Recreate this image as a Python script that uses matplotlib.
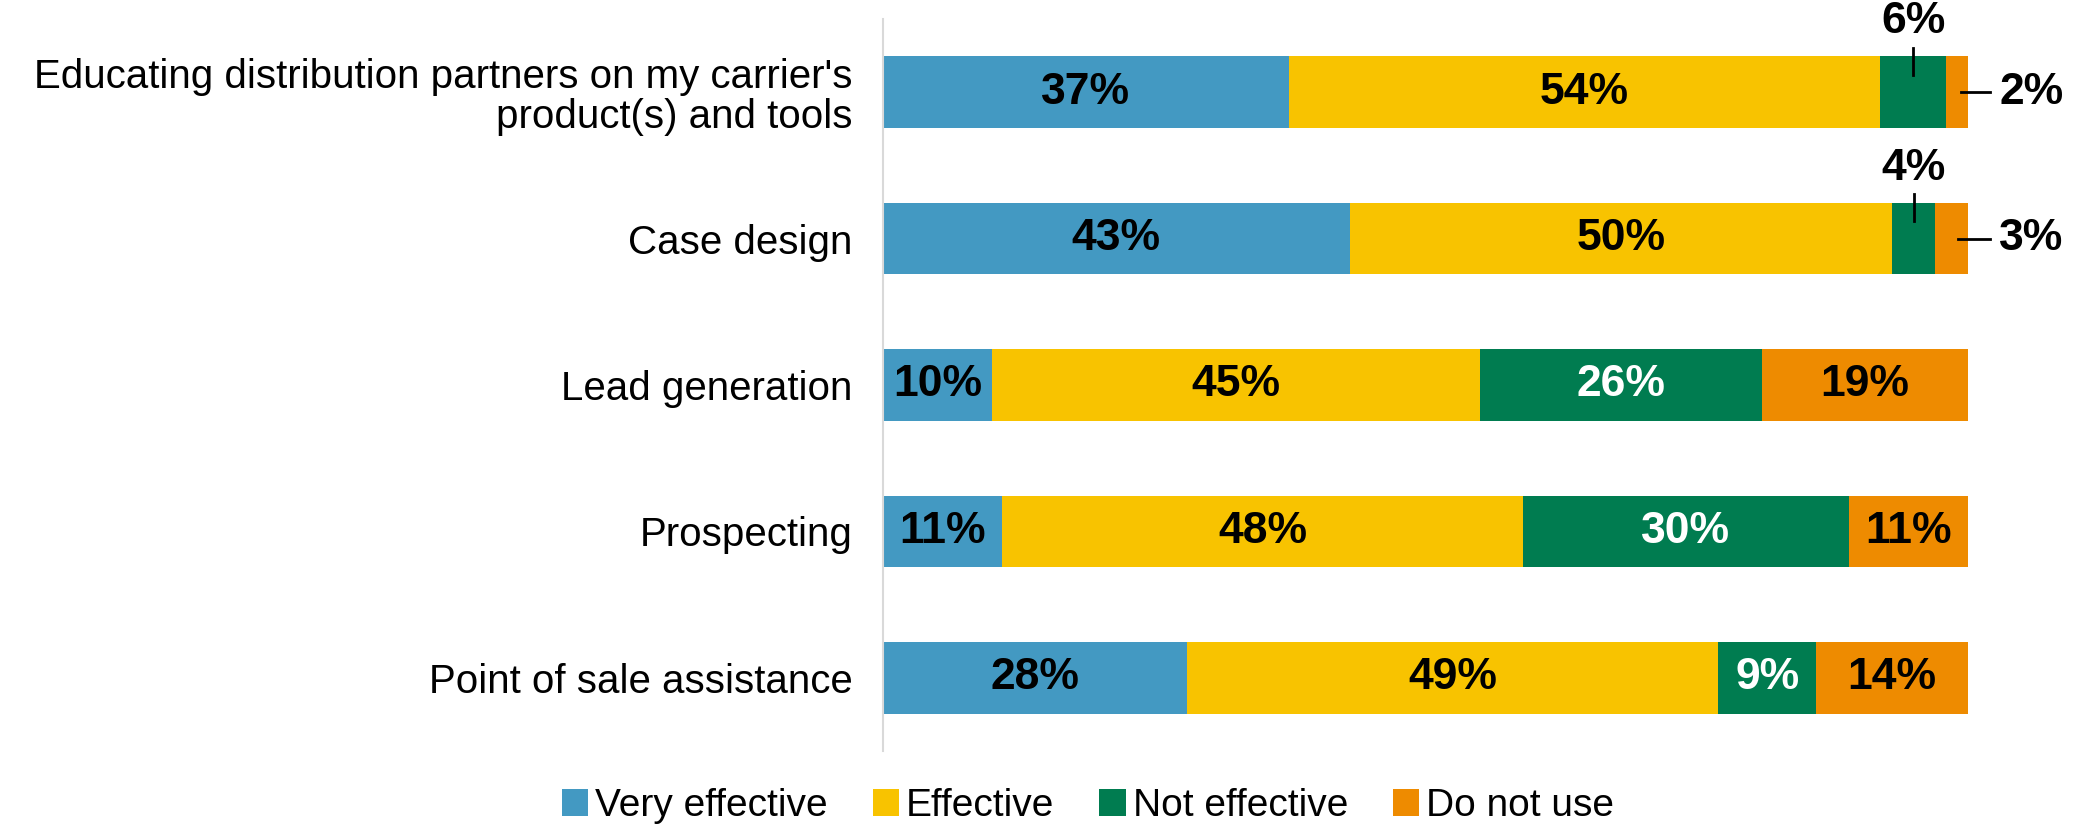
import matplotlib
matplotlib.use("Agg")
import matplotlib.pyplot as plt
from matplotlib.patches import Patch
import numpy as np

plt.rcParams['font.family'] = ['Liberation Sans', 'DejaVu Sans']

categories = [
    "Educating distribution partners on my carrier's\nproduct(s) and tools",
    "Case design",
    "Lead generation",
    "Prospecting",
    "Point of sale assistance",
]
series_names = ["Very effective", "Effective", "Not effective", "Do not use"]
very_effective = [37, 43, 10, 11, 28]
effective = [54, 50, 45, 48, 49]
not_effective = [6, 4, 26, 30, 9]
do_not_use = [2, 3, 19, 11, 14]

colors = ["#4399C2", "#F8C300", "#007C50", "#EE8B00"]
text_colors = ["black", "black", "white", "black"]

data = np.array([very_effective, effective, not_effective, do_not_use], dtype=float)
totals = data.sum(axis=0)
shares = data / totals * 100

W, H = 2081, 826
fig = plt.figure(figsize=(W / 100, H / 100), dpi=100)
ax = fig.add_axes([883 / W, 1 - 751 / H, (1968 - 883) / W, (751 - 19) / H])

LBL = 32
y = np.arange(len(categories))
left = np.zeros(len(categories))
for i, name in enumerate(series_names):
    ax.barh(y, shares[i], left=left, height=0.49, color=colors[i], label=name)
    for j in range(len(categories)):
        w = shares[i][j]
        cx = left[j] + w / 2
        lab = f"{int(data[i][j])}%"
        if w >= 8:
            ax.text(cx, y[j], lab, ha='center', va='center', fontsize=LBL,
                    fontweight='bold', color=text_colors[i])
        elif i == 2:
            ax.plot([cx, cx], [y[j] - 0.12, y[j] - 0.305], color='black', lw=2, clip_on=False)
            ax.text(cx, y[j] - 0.34, lab, ha='center', va='bottom', fontsize=LBL,
                    fontweight='bold', color='black', clip_on=False)
        else:
            x0 = left[j] + w * 0.7
            ax.plot([x0, 102.0], [y[j], y[j]], color='black', lw=2, clip_on=False)
            ax.text(102.9, y[j], lab, ha='left', va='center', fontsize=LBL,
                    fontweight='bold', color='black', clip_on=False)
    left += shares[i]

ax.set_xlim(0, 100)
ax.set_ylim(len(categories) - 0.5, -0.5)
ax.set_yticks(y)
ax.set_yticklabels(categories, fontsize=29, linespacing=1.05)
ax.tick_params(axis='y', length=0, pad=22)
ax.set_xticks([])
for s in ['top', 'right', 'bottom']:
    ax.spines[s].set_visible(False)
ax.spines['left'].set_color('#D9D9D9')
ax.spines['left'].set_linewidth(1.5)

handles = [Patch(facecolor=c, edgecolor='none') for c in colors]
fig.legend(handles, series_names, loc='center', bbox_to_anchor=(1088 / W, 1 - 806 / H),
           ncol=4, frameon=False, fontsize=28, handlelength=0.68, handleheight=0.7,
           handletextpad=0.18, columnspacing=1.15, borderaxespad=0, borderpad=0)

fig.savefig("out.png", dpi=100)
